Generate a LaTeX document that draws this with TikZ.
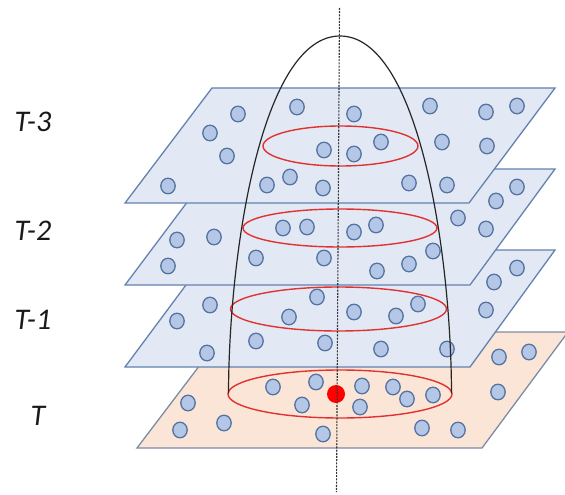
\documentclass[tikz,border=0pt]{standalone}
\usepackage{fontspec}
\setmainfont{Carlito}
\definecolor{planefill}{RGB}{226,233,244}
\definecolor{planeline}{RGB}{100,130,175}
\definecolor{tfill}{RGB}{251,229,214}
\definecolor{tline}{RGB}{125,140,165}
\definecolor{dotfill}{RGB}{180,199,231}
\definecolor{dotline}{RGB}{85,115,160}
\definecolor{ringred}{RGB}{225,50,50}
\begin{document}
\begin{tikzpicture}[x=1pt,y=-1pt,
  plane/.style={fill=planefill, draw=planeline, line width=1.3pt},
  tplane/.style={fill=tfill, draw=tline, line width=1.3pt},
  dot/.style={fill=dotfill, draw=dotline, line width=1.3pt},
  ring/.style={draw=ringred, line width=1.4pt},
  dome/.style={draw=black!85, line width=1.2pt},
  axisline/.style={draw=black!80, line width=1.1pt, dash pattern=on 2pt off 1.2pt},
  lbl/.style={font=\itshape\fontsize{30}{36}\selectfont, text=black!90, inner sep=0pt},
  focus/.style={fill=red}]
\useasboundingbox (0,0) rectangle (565,495);
\clip (0,0) rectangle (565,495);
\fill[white] (0,0) rectangle (565,495);

% plane T
\draw[tplane] (225,332) -- (568,332) -- (482,448) -- (137,448) -- cycle;
\draw[ring] (340,394) ellipse [x radius=112pt, y radius=24pt];
\foreach \x/\y in {188/403, 180/430, 224/423, 273/387, 316/382, 362/386, 393/387, 407/399, 302/405, 360/407, 323/434, 433/395, 422/428, 458/430, 499/357, 529/352, 498/392}
  \path[dot] (\x,\y) ellipse [x radius=7.2pt, y radius=7.8pt];
\fill[focus] (336,394) circle [radius=9pt];

% plane T-1
\draw[plane] (212,250) -- (555,250) -- (470,367) -- (125,367) -- cycle;
\draw[ring] (338.5,309) ellipse [x radius=108pt, y radius=22pt];
\foreach \x/\y in {210/305, 177/321, 207/353, 256/341, 289/317, 317/297, 354/312, 396/316, 418/304, 325/343, 381/349, 447/349, 486/310, 517/268, 494/282}
  \path[dot] (\x,\y) ellipse [x radius=7.2pt, y radius=7.8pt];

% plane T-2
\draw[plane] (212,169) -- (555,169) -- (470,285) -- (125,285) -- cycle;
\draw[ring] (340,228) ellipse [x radius=97pt, y radius=19pt];
\foreach \x/\y in {177/240, 214/237, 168/266, 283/228, 307/227, 354/232, 376/225, 256/258, 324/258, 377/271, 409/264, 433/251, 458/218, 486/229, 496/201, 517/187}
  \path[dot] (\x,\y) ellipse [x radius=7.2pt, y radius=7.8pt];

% plane T-3
\draw[plane] (212,88) -- (555,88) -- (469,203) -- (125,203) -- cycle;
\draw[ring] (340.5,146) ellipse [x radius=77.5pt, y radius=20pt];
\foreach \x/\y in {238/114, 210/133, 227/156, 168/186, 297/107, 354/114, 324/150, 354/154, 381/142, 267/185, 290/177, 323/188, 409/183, 430/106, 486/112, 517/106, 442/142, 487/146, 447/185}
  \path[dot] (\x,\y) ellipse [x radius=7.2pt, y radius=7.8pt];

% dome
\draw[dome] (228.5,393) .. controls (229,250) and (262,36) .. (340,36)
            .. controls (418,36) and (451,250) .. (451.5,393);

% axis
\coordinate (axtop) at (339.5,8);
\coordinate (axbot) at (336.5,492);
\draw[axisline] (axtop) -- (axbot);

% labels
\node[lbl] (l3) at (33,122) {T-3};
\node[lbl] (l2) at (33,231) {T-2};
\node[lbl] (l1) at (33,320) {T-1};
\node[lbl] (l0) at (38,416) {T};
\end{tikzpicture}
\end{document}
